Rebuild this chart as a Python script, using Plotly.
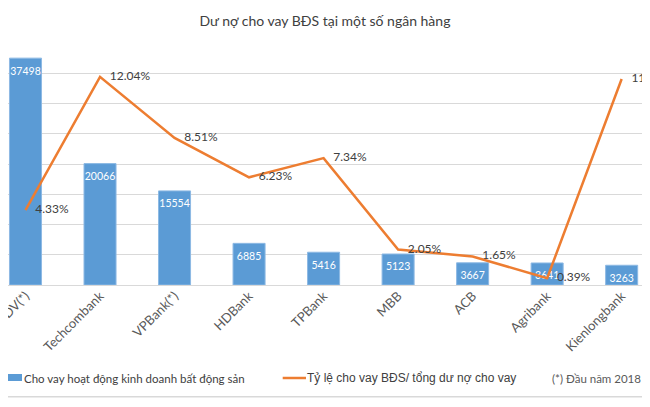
import plotly.graph_objects as go

banks = ["BIDV(*)", "Techcombank", "VPBank(*)", "HDBank", "TPBank", "MBB", "ACB", "Agribank", "Kienlongbank"]
loans = [37498, 20066, 15554, 6885, 5416, 5123, 3667, 3641, 3263]
ratio = [4.33, 12.04, 8.51, 6.23, 7.34, 2.05, 1.65, 0.39, 11.92]

bar_name = "Cho vay hoạt động kinh doanh bất động sản"
line_name = "Tỷ lệ cho vay BĐS/ tổng dư nợ cho vay"
note = "(*) Đầu năm 2018"
title = "Dư nợ cho vay BĐS tại một số ngân hàng"

FONT = "Lato"
BLUE = "#5B9BD5"
ORANGE = "#ED7D31"

# page has an 8px body margin: figure is 642x399, shifted by 8px
W, H = 642, 399
OFF = 8
PLOT_TOP, PLOT_BOT = 43, 285   # page px
PH = PLOT_BOT - PLOT_TOP


def py(page_y):
    return (PLOT_BOT - page_y) / PH


def px(page_x):
    return (page_x - OFF) / W


fig = go.Figure()
fig.add_trace(go.Bar(
    x=banks, y=loans, name=bar_name,
    marker=dict(color=BLUE, line=dict(color="#8DB9E4", width=1)),
    width=0.43, hoverinfo="x+y",
))
fig.add_trace(go.Scatter(
    x=banks, y=loans, mode="text+markers", showlegend=False,
    marker=dict(size=12, color="rgba(0,0,0,0)"),
    text=[str(v) for v in loans], textposition="bottom center",
    textfont=dict(color="white", size=10.5, family=FONT), cliponaxis=False, hoverinfo="skip",
))
fig.add_trace(go.Scatter(
    x=banks, y=ratio, yaxis="y2", mode="lines+markers+text", name=line_name,
    line=dict(color=ORANGE, width=2.5),
    marker=dict(size=14, color="rgba(0,0,0,0)"),
    text=[f"{v:.2f}%" for v in ratio], textposition="middle right",
    textfont=dict(color="#404040", size=12, family=FONT), cliponaxis=False,
))

cat_w = 74.52
first_center = 25.5 - OFF
rmin = -first_center / cat_w
rmax = rmin + W / cat_w

fig.update_layout(
    width=W, height=H,
    margin=dict(l=0, r=0, t=PLOT_TOP - OFF, b=H - (PLOT_BOT - OFF), autoexpand=False),
    paper_bgcolor="white", plot_bgcolor="white",
    font=dict(family=FONT, color="#595959"),
    title=dict(text=title, x=px(325), xanchor="center",
               y=1 - (20.7 - OFF) / H, yanchor="middle", yref="container",
               font=dict(size=14, color="#404040", family=FONT)),
    xaxis=dict(type="category", range=[rmin, rmax], tickangle=-45, automargin=False,
               tickfont=dict(size=13, color="#595959"), showgrid=False,
               showline=False, ticks=""),
    yaxis=dict(range=[0, 40000], dtick=5000, showticklabels=False, showgrid=True, automargin=False,
               gridcolor="#D9D9D9", gridwidth=1, zeroline=True, zerolinecolor="#D9D9D9",
               zerolinewidth=1),
    yaxis2=dict(range=[0, 14], overlaying="y", side="right", showticklabels=False,
                showgrid=False, zeroline=False, automargin=False),
    showlegend=False,
    shapes=[
        dict(type="rect", xref="paper", yref="paper", x0=px(0), x1=px(22),
             y0=py(381), y1=py(374), fillcolor=BLUE, line=dict(width=0)),
        dict(type="line", xref="paper", yref="paper", x0=px(282.7), x1=px(306),
             y0=py(378), y1=py(378), line=dict(color=ORANGE, width=2.5)),
        dict(type="line", xref="paper", yref="paper", x0=0, x1=1,
             y0=py(396.7), y1=py(396.7), line=dict(color="#D9D9D9", width=1.5)),
    ],
    annotations=[
        dict(text=bar_name, xref="paper", yref="paper", x=px(21.5), y=py(378),
             xanchor="left", yanchor="middle", showarrow=False,
             font=dict(size=11.5, color="#404040", family=FONT)),
        dict(text=line_name, xref="paper", yref="paper", x=px(305), y=py(378),
             xanchor="left", yanchor="middle", showarrow=False,
             font=dict(size=12, color="#404040", family="Liberation Sans")),
        dict(text=note, xref="paper", yref="paper", x=px(550), y=py(378),
             xanchor="left", yanchor="middle", showarrow=False,
             font=dict(size=11.5, color="#595959", family=FONT)),
    ],
)

fig.write_html("out.html")
